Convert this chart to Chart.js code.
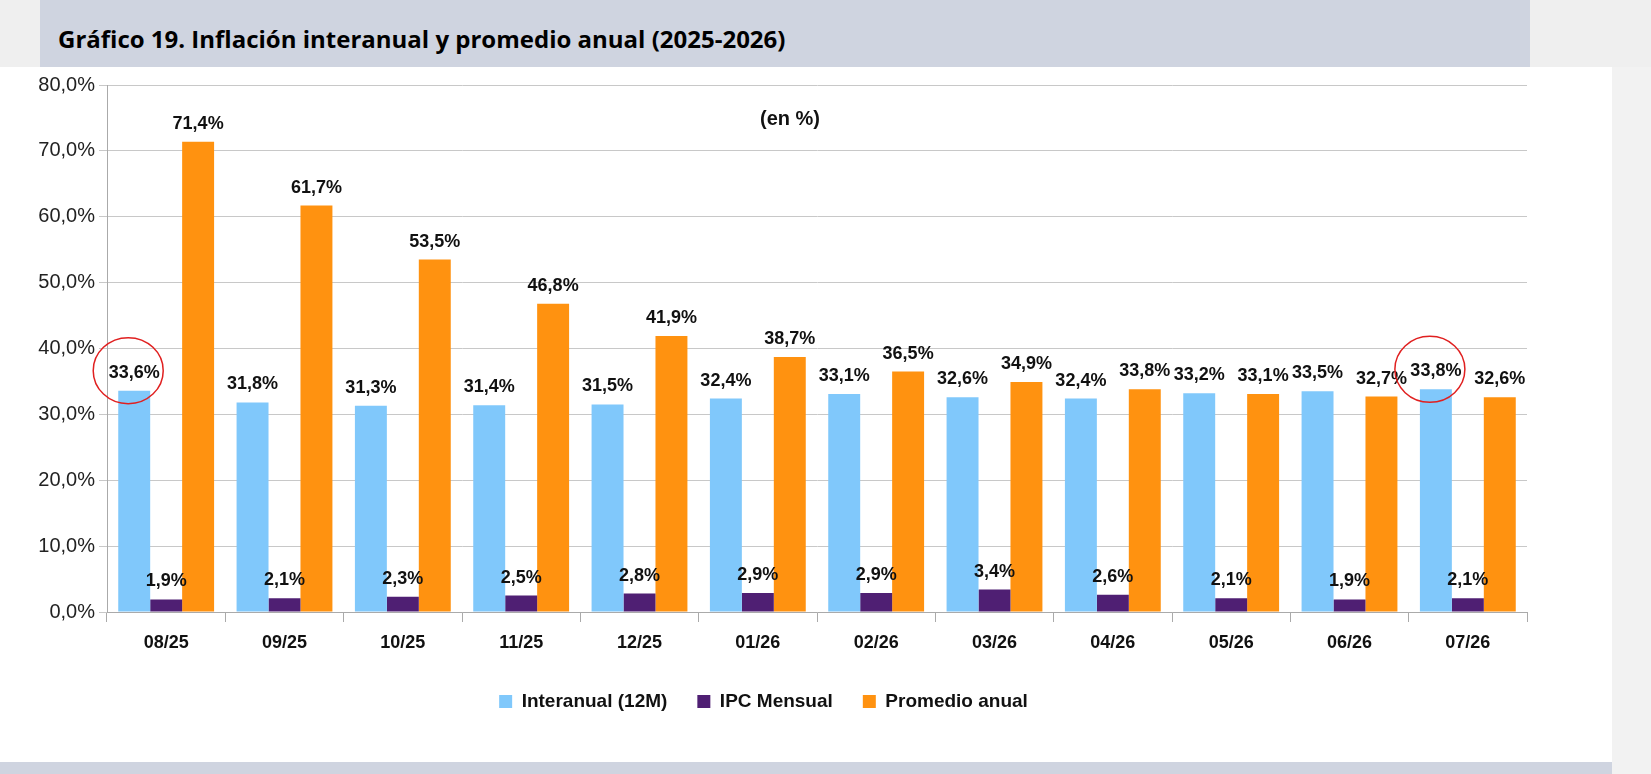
<!DOCTYPE html>
<html><head><meta charset="utf-8">
<script src="https://cdn.jsdelivr.net/npm/chart.js@4"></script>
<style>
body{margin:0;width:1651px;height:774px;background:#fff;position:relative;overflow:hidden;font-family:"Liberation Sans",Arial,sans-serif}
#lg{position:absolute;left:0;top:0;width:40px;height:67px;background:#efefef}
#rg{position:absolute;left:1530px;top:0;width:121px;height:67px;background:#efefef}
#rg2{position:absolute;left:1612px;top:67px;width:39px;height:707px;background:#f2f2f2}
#hd{position:absolute;left:40px;top:0;width:1490px;height:67px;background:#cfd4e0}
#hd span{position:absolute;left:18px;top:22px;font:bold 24px "Open Sans",sans-serif;color:#000}
#ft{position:absolute;left:0;top:762px;width:1612px;height:12px;background:#cfd4e0}
#wrap{position:absolute;left:0;top:67px;width:1612px;height:660px}
</style></head><body>
<div id="lg"></div><div id="rg"></div><div id="rg2"></div>
<div id="hd"><span>Gráfico 19. Inflación interanual y promedio anual (2025-2026)</span></div>
<div id="ft"></div>
<div id="wrap"><canvas id="c"></canvas></div>
<script>
const meses = ['08/25','09/25','10/25','11/25','12/25','01/26','02/26','03/26','04/26','05/26','06/26','07/26'];
const interanual = [33.6,31.8,31.3,31.4,31.5,32.4,33.1,32.6,32.4,33.2,33.5,33.8];
const ipcMensual = [1.9,2.1,2.3,2.5,2.8,2.9,2.9,3.4,2.6,2.1,1.9,2.1];
const promedio = [71.4,61.7,53.5,46.8,41.9,38.7,36.5,34.9,33.8,33.1,32.7,32.6];
const marcados = [0,11]; // índices de interanual con círculo

const fmt = v => v.toFixed(1).replace('.', ',') + '%';

const etiquetas = {
  id: 'etiquetas',
  afterDatasetsDraw(chart) {
    const ctx = chart.ctx;
    ctx.save();
    ctx.font = 'bold 18px "Liberation Sans", Arial';
    ctx.fillStyle = '#111';
    ctx.textAlign = 'center';
    ctx.textBaseline = 'bottom';
    chart.data.datasets.forEach((ds, i) => {
      chart.getDatasetMeta(i).data.forEach((bar, j) => {
        ctx.fillText(fmt(ds.data[j]), bar.x, bar.y - 9);
      });
    });
    // círculos rojos
    ctx.strokeStyle = '#e02020';
    ctx.lineWidth = 1.5;
    marcados.forEach(j => {
      const bar = chart.getDatasetMeta(0).data[j];
      ctx.beginPath();
      ctx.ellipse(bar.x - 6, bar.y - 20, 35, 33, 0, 0, Math.PI * 2);
      ctx.stroke();
    });
    ctx.font = 'bold 20px "Liberation Sans", Arial';
    ctx.textAlign = 'center';
    ctx.fillText('(en %)', 790, 62);
    ctx.restore();
  }
};

new Chart(document.getElementById('c'), {
  type: 'bar',
  data: {
    labels: meses,
    datasets: [
      { label: 'Interanual (12M)', data: interanual, backgroundColor: '#80c8fb' },
      { label: 'IPC Mensual', data: ipcMensual, backgroundColor: '#4f1f73' },
      { label: 'Promedio anual', data: promedio, backgroundColor: '#ff9210' }
    ]
  },
  options: {
    responsive: true, maintainAspectRatio: false, animation: false,
    layout: { padding: { top: 18, right: 85, left: 0, bottom: 6 } },
    datasets: { bar: { categoryPercentage: 0.81, barPercentage: 1 } },
    plugins: {
      tooltip: { enabled: false },
      legend: {
        position: 'bottom',
        labels: { boxWidth: 13, boxHeight: 13, padding: 30, color: '#111',
          font: { family: '"Liberation Sans", Arial', size: 19, weight: 'bold' } }
      }
    },
    scales: {
      x: {
        grid: { offset: true, drawOnChartArea: false, color: '#aaa', tickLength: 10 },
        border: { color: '#aaa' },
        ticks: { color: '#111', padding: 10, font: { family: '"Liberation Sans", Arial', size: 18, weight: 'bold' } },
        afterFit(s) { s.height = 50; }
      },
      y: {
        min: 0, max: 80,
        grid: { color: '#c8c8c8', tickLength: 8 },
        border: { color: '#aaa' },
        ticks: { stepSize: 10, color: '#222', padding: 4,
          font: { family: '"Liberation Sans", Arial', size: 20 },
          callback: v => fmt(v) },
        afterFit(s) { s.width = 107; }
      }
    }
  },
  plugins: [etiquetas]
});
</script>
</body></html>
